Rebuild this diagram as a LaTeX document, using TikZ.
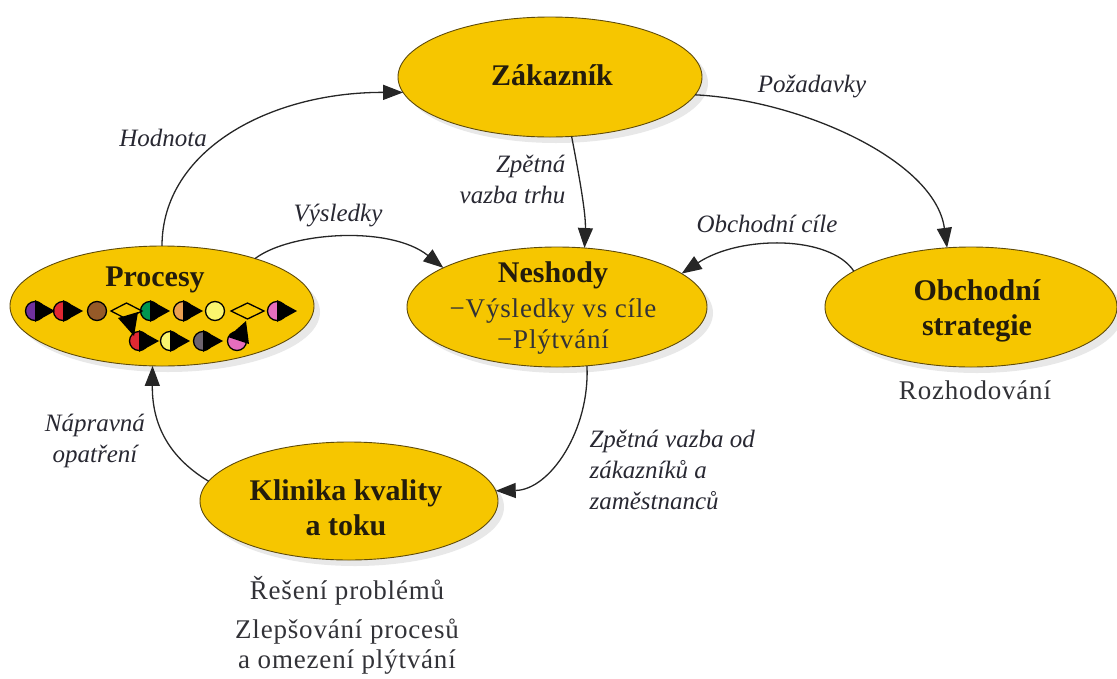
\documentclass[tikz,border=0pt]{standalone}
\usepackage{fontspec}
\setmainfont{Liberation Serif}
\usetikzlibrary{shapes.geometric,arrows.meta,shadows}
\definecolor{ellfill}{RGB}{246,198,0}
\definecolor{ellborder}{RGB}{95,75,10}
\definecolor{headcol}{RGB}{35,28,12}
\definecolor{subcol}{RGB}{50,50,55}
\definecolor{labcol}{RGB}{40,40,50}
\definecolor{cpurple}{RGB}{112,48,160}
\definecolor{cred}{RGB}{225,40,50}
\definecolor{cbrown}{RGB}{150,90,40}
\definecolor{cgreen}{RGB}{0,150,80}
\definecolor{corange}{RGB}{235,160,80}
\definecolor{cyellow}{RGB}{250,245,110}
\definecolor{cpink}{RGB}{230,110,190}
\definecolor{cgray}{RGB}{110,100,110}
\tikzset{
  ell/.style={ellipse, draw=ellborder, fill=ellfill, line width=0.9pt, inner sep=0pt, outer sep=0pt,
    drop shadow={opacity=0.18, shadow xshift=6pt, shadow yshift=-6pt}},
  head/.style={font=\fontsize{30}{35}\selectfont\bfseries, text=headcol, align=center},
  sub/.style={font=\fontsize{27}{31}\selectfont\addfontfeature{LetterSpace=3}, text=subcol, align=center},
  lab/.style={font=\fontsize{25}{31}\selectfont\itshape, text=labcol},
  arr/.style={-{Triangle[length=20pt,width=15pt]}, line width=1.3pt, draw=black!85},
  pcirc/.style={draw=black, line width=1.3pt},
  ptri/.style={fill=black}
}
\begin{document}
\begin{tikzpicture}[x=1pt,y=-1pt]
\useasboundingbox (0,0) rectangle (1117,678);

% ellipses
\node[ell, minimum width=304pt, minimum height=120pt] (zak) at (550,77) {};
\node[ell, minimum width=304pt, minimum height=120pt] (proc) at (162,306) {};
\node[ell, minimum width=300pt, minimum height=120pt] (nes) at (557,307) {};
\node[ell, minimum width=292pt, minimum height=120pt] (obch) at (971,307) {};
\node[ell, minimum width=298pt, minimum height=118pt] (kli) at (349,501) {};

% texts in ellipses
\node[head] (tzak) at (552,75) {Zákazník};
\node[head] (tproc) at (155,280) {Procesy};
\node[head] (tnes) at (553,275) {Neshody};
\node[sub] (tnes1) at (553,311) {−Výsledky vs cíle};
\node[sub] (tnes2) at (553,342) {−Plýtvání};
\node[head] (tobch) at (977,311) {Obchodní\\strategie};
\node[head] (tkli) at (346,508) {Klinika kvality\\a toku};

% texts below
\node[sub] (troz) at (975,390) {Rozhodování};
\node[sub] (tres) at (347,591) {Řešení problémů};
\node[sub, font=\fontsize{27}{30}\selectfont\addfontfeature{LetterSpace=3}] (tzlep) at (347,647) {Zlepšování procesů\\a omezení plýtvání};

% process chain inside Procesy
\foreach \x/\c in {35/cpurple,63/cred,97/cbrown,150/cgreen,183/corange,215/cyellow,277/cpink}
  \filldraw[pcirc, fill=\c] (\x,311) circle (9.5pt);
\foreach \x/\c in {139/cred,170/cyellow,203/cgray,237/cpink}
  \filldraw[pcirc, fill=\c] (\x,341) circle (9.5pt);
\draw[line width=1.3pt] (111,311) -- (126.5,303) -- (142,311) -- (126.5,319) -- cycle;
\draw[line width=1.3pt] (231,311) -- (247.5,303) -- (264,311) -- (247.5,319) -- cycle;
\foreach \x in {35,63,150,183,277}
  \fill[ptri] (\x,300) -- (\x,322) -- (\x+20,311) -- cycle;
\foreach \x in {139,170,203}
  \fill[ptri] (\x,330) -- (\x,352) -- (\x+20,341) -- cycle;
\fill[ptri] (118,318) -- (138,312) -- (134,336) -- cycle;
\fill[ptri] (228,337) -- (249,344) -- (246,321) -- cycle;

% connectors
\draw[arr] (proc.north) .. controls (162,150) and (270,92) .. (zak.186);
\draw[arr] (zak.-7) .. controls (800,100) and (935,160) .. (obch.112);
\draw[arr] (zak.-70) .. controls (580,180) and (586,215) .. (nes.65);
\draw[arr] (proc.27) .. controls (290,232) and (390,225) .. (nes.161);
\draw[arr] (obch.163) .. controls (830,235) and (740,235) .. (nes.15);
\draw[arr] (nes.-63) .. controls (590,430) and (550,490) .. (kli.4);
\draw[arr] (kli.172) .. controls (165,455) and (152,420) .. (proc.-99);

% connector labels
\node[lab] (lhod) at (163,138) {Hodnota};
\node[lab] (lpoz) at (812,87) {Požadavky};
\node[lab, anchor=east, align=right] (ltrh) at (569,179) {Zpětná\\vazba trhu};
\node[lab] (lvys) at (338,216) {Výsledky};
\node[lab] (lcil) at (767,224) {Obchodní cíle};
\node[lab, align=center] (lnap) at (95,441) {Nápravná\\opatření};
\node[lab, anchor=west, align=left] (lzak) at (586,470) {Zpětná vazba od\\zákazníků a\\zaměstnanců};
\end{tikzpicture}
\end{document}
